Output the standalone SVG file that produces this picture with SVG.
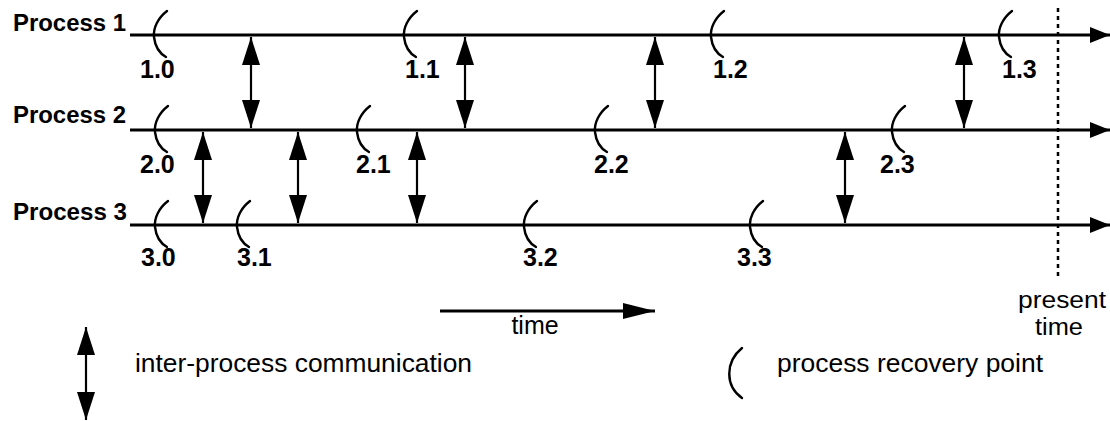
<svg xmlns="http://www.w3.org/2000/svg" xmlns:xlink="http://www.w3.org/1999/xlink" width="1110" height="421" viewBox="0 0 1110 421">
<style>
.bg{fill:#fff}
.pline{stroke:#000;stroke-width:3;fill:none}
.comm{stroke:#000;stroke-width:2.2;fill:none}
.rp{stroke:#000;stroke-width:2.4;fill:none;stroke-linecap:round}
.plabel{font-family:"Liberation Sans",Arial,sans-serif;font-weight:bold;font-size:23px;fill:#000}
.num{font-family:"Liberation Sans",Arial,sans-serif;font-weight:bold;font-size:25px;fill:#000}
.leg{font-family:"Liberation Sans",Arial,sans-serif;font-size:25px;fill:#000}
.pt{font-family:"Liberation Sans",Arial,sans-serif;font-size:23px;fill:#000}
.dash{stroke:#000;stroke-width:2.5;stroke-dasharray:4 4;fill:none}
</style>
<defs>
<marker id="head" viewBox="0 0 28 18" refX="28" refY="9" markerWidth="28" markerHeight="18" markerUnits="userSpaceOnUse" orient="auto-start-reverse">
<path d="M0,0 L28,9 L0,18 Z" fill="#000"/>
</marker>
<marker id="lhead" viewBox="0 0 20 16" refX="20" refY="8" markerWidth="20" markerHeight="16" markerUnits="userSpaceOnUse" orient="auto">
<path d="M0,0 L20,8 L0,16 Z" fill="#000"/>
</marker>
<marker id="thead" viewBox="0 0 32 16" refX="32" refY="8" markerWidth="32" markerHeight="16" markerUnits="userSpaceOnUse" orient="auto">
<path d="M0,0 L32,8 L0,16 Z" fill="#000"/>
</marker>
<path id="arc" d="M13,-24 C4,-17 -1,-7 0,2 C1,11 5,18 12,22"/>
</defs>
<rect class="bg" x="0" y="0" width="1110" height="421"/>

<g id="process1">
<text class="plabel" x="13" y="31" textLength="113" lengthAdjust="spacingAndGlyphs">Process 1</text>
<line class="pline" x1="130" y1="35" x2="1110" y2="35" marker-end="url(#lhead)"/>
</g>
<g id="process2">
<text class="plabel" x="13" y="123" textLength="113" lengthAdjust="spacingAndGlyphs">Process 2</text>
<line class="pline" x1="130" y1="130" x2="1110" y2="130" marker-end="url(#lhead)"/>
</g>
<g id="process3">
<text class="plabel" x="13" y="220" textLength="114" lengthAdjust="spacingAndGlyphs">Process 3</text>
<line class="pline" x1="130" y1="225" x2="1110" y2="225" marker-end="url(#lhead)"/>
</g>

<g id="rp1-0"><use xlink:href="#arc" href="#arc" class="rp" x="154" y="35"/><text class="num" x="140" y="78">1.0</text></g>
<g id="rp1-1"><use xlink:href="#arc" href="#arc" class="rp" x="404" y="35"/><text class="num" x="405" y="78">1.1</text></g>
<g id="rp1-2"><use xlink:href="#arc" href="#arc" class="rp" x="711" y="35"/><text class="num" x="713" y="78">1.2</text></g>
<g id="rp1-3"><use xlink:href="#arc" href="#arc" class="rp" x="999" y="35"/><text class="num" x="1002" y="78">1.3</text></g>
<g id="rp2-0"><use xlink:href="#arc" href="#arc" class="rp" x="155" y="130"/><text class="num" x="140" y="173">2.0</text></g>
<g id="rp2-1"><use xlink:href="#arc" href="#arc" class="rp" x="357" y="130"/><text class="num" x="356" y="173">2.1</text></g>
<g id="rp2-2"><use xlink:href="#arc" href="#arc" class="rp" x="595" y="130"/><text class="num" x="594" y="173">2.2</text></g>
<g id="rp2-3"><use xlink:href="#arc" href="#arc" class="rp" x="892" y="130"/><text class="num" x="880" y="173">2.3</text></g>
<g id="rp3-0"><use xlink:href="#arc" href="#arc" class="rp" x="155" y="225"/><text class="num" x="141" y="266">3.0</text></g>
<g id="rp3-1"><use xlink:href="#arc" href="#arc" class="rp" x="237" y="225"/><text class="num" x="237" y="266">3.1</text></g>
<g id="rp3-2"><use xlink:href="#arc" href="#arc" class="rp" x="524" y="225"/><text class="num" x="523" y="266">3.2</text></g>
<g id="rp3-3"><use xlink:href="#arc" href="#arc" class="rp" x="750" y="225"/><text class="num" x="737" y="266">3.3</text></g>

<g id="connectors">
<line class="comm" x1="251" y1="37" x2="251" y2="128" marker-start="url(#head)" marker-end="url(#head)"/>
<line class="comm" x1="465" y1="37" x2="465" y2="128" marker-start="url(#head)" marker-end="url(#head)"/>
<line class="comm" x1="655" y1="37" x2="655" y2="128" marker-start="url(#head)" marker-end="url(#head)"/>
<line class="comm" x1="964" y1="37" x2="964" y2="128" marker-start="url(#head)" marker-end="url(#head)"/>
<line class="comm" x1="203" y1="132" x2="203" y2="223" marker-start="url(#head)" marker-end="url(#head)"/>
<line class="comm" x1="298" y1="132" x2="298" y2="223" marker-start="url(#head)" marker-end="url(#head)"/>
<line class="comm" x1="417" y1="132" x2="417" y2="223" marker-start="url(#head)" marker-end="url(#head)"/>
<line class="comm" x1="845" y1="132" x2="845" y2="223" marker-start="url(#head)" marker-end="url(#head)"/>
</g>

<g id="present-time">
<line class="dash" x1="1058" y1="8" x2="1058" y2="278"/>
<text class="pt" x="1062" y="308" text-anchor="middle" textLength="88" lengthAdjust="spacingAndGlyphs">present</text>
<text class="pt" x="1059" y="335" text-anchor="middle" textLength="48" lengthAdjust="spacingAndGlyphs">time</text>
</g>

<g id="time-axis">
<line class="pline" x1="440" y1="311" x2="655" y2="311" marker-end="url(#thead)"/>
<text class="leg" x="535" y="334" text-anchor="middle">time</text>
</g>

<g id="legend-comm">
<line class="comm" x1="86" y1="327" x2="86" y2="420" marker-start="url(#head)" marker-end="url(#head)"/>
<text class="leg" x="135" y="372" textLength="337" lengthAdjust="spacingAndGlyphs">inter-process communication</text>
</g>
<g id="legend-rp">
<path class="rp" d="M742,348 C725,362 725,386 742,398"/>
<text class="leg" x="777" y="372" textLength="266" lengthAdjust="spacingAndGlyphs">process recovery point</text>
</g>
</svg>
